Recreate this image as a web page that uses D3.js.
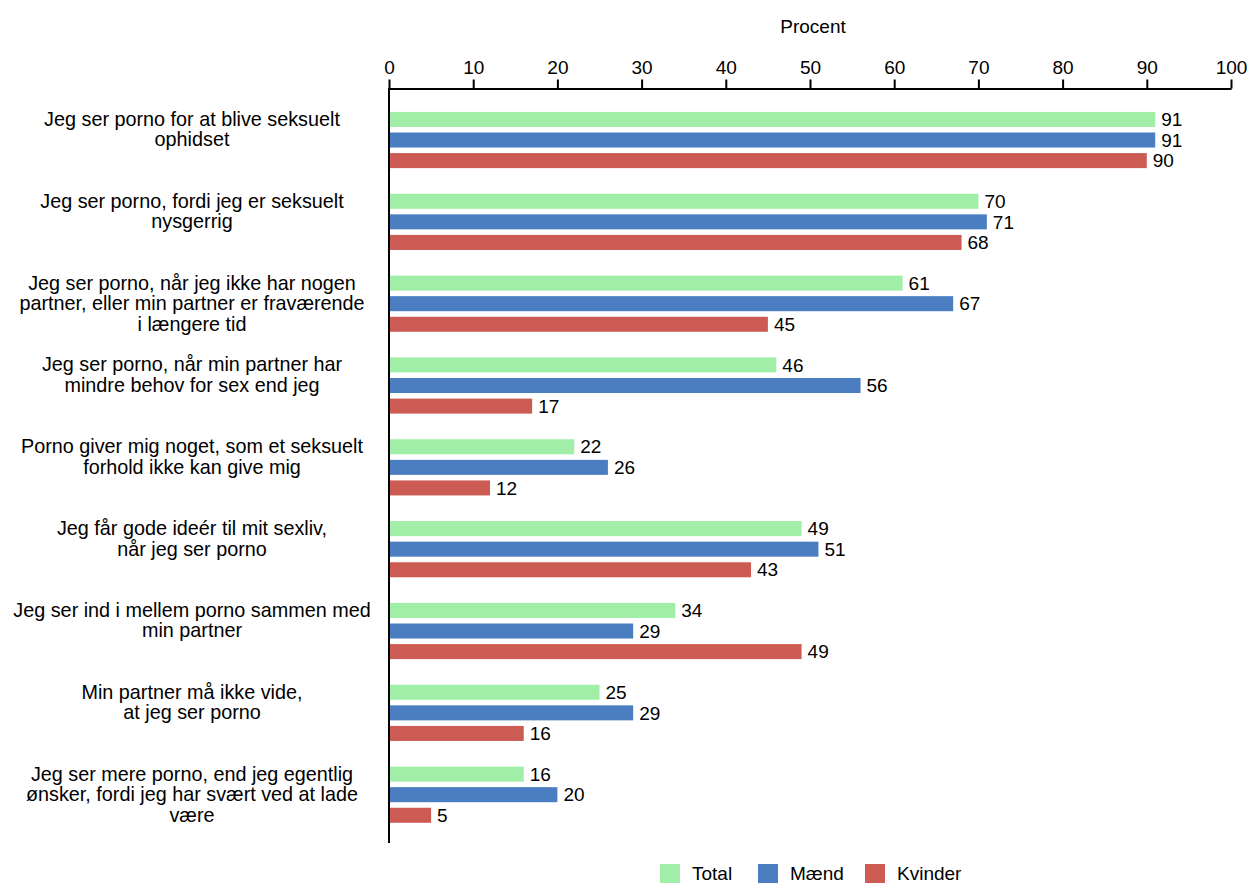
<!DOCTYPE html>
<html><head><meta charset="utf-8">
<script src="https://cdn.jsdelivr.net/npm/d3@7"></script>
<style>body{margin:0;background:#fff}text{font-family:"Liberation Sans",Arial,sans-serif;fill:#000}</style>
</head><body><svg id="c" width="1252" height="884"></svg>
<script>
const categories = [
  ["Jeg ser porno for at blive seksuelt","ophidset"],
  ["Jeg ser porno, fordi jeg er seksuelt","nysgerrig"],
  ["Jeg ser porno, når jeg ikke har nogen","partner, eller min partner er fraværende","i længere tid"],
  ["Jeg ser porno, når min partner har","mindre behov for sex end jeg"],
  ["Porno giver mig noget, som et seksuelt","forhold ikke kan give mig"],
  ["Jeg får gode ideér til mit sexliv,","når jeg ser porno"],
  ["Jeg ser ind i mellem porno sammen med","min partner"],
  ["Min partner må ikke vide,","at jeg ser porno"],
  ["Jeg ser mere porno, end jeg egentlig","ønsker, fordi jeg har svært ved at lade","være"]
];
const seriesNames = ["Total","Mænd","Kvinder"];
const total = [91,70,61,46,22,49,34,25,16];
const maend = [91,71,67,56,26,51,29,29,20];
const kvinder = [90,68,45,17,12,43,49,16,5];
const ticks = [0,10,20,30,40,50,60,70,80,90,100];
const colors = ["#a0eea8","#4b7ec0","#cc5c53"];
const series = [total, maend, kvinder];

const svg = d3.select("#c");
const x = d3.scaleLinear().domain([0,100]).range([389,1231]);
const y = d3.scaleBand().domain(d3.range(categories.length)).range([99,835.5]);
const inner = d3.scaleBand().domain(d3.range(3)).range([-28,28.2]).paddingInner(0.27).paddingOuter(0);

// top axis
const ax = svg.append("g").attr("transform","translate(0,88.5)")
  .call(d3.axisTop(x).tickValues(ticks).tickSize(9).tickPadding(6).tickSizeOuter(0));
ax.select(".domain").attr("stroke","#000").attr("stroke-width",2);
ax.selectAll(".tick line").attr("stroke","#000").attr("stroke-width",2);
ax.selectAll(".tick text").style("font-size","19px").attr("fill","#000");
svg.append("text").attr("x",813).attr("y",26).attr("dy","0.35em").attr("text-anchor","middle").style("font-size","19px").text("Procent");

// bars
categories.forEach((c,i)=>{
  const cy = y(i)+y.bandwidth()/2;
  series.forEach((s,j)=>{
    svg.append("rect").attr("x",x(0)).attr("y",cy+inner(j)).attr("width",x(s[i])-x(0))
      .attr("height",inner.bandwidth()).attr("fill",colors[j]);
    svg.append("text").attr("x",x(s[i])+6).attr("y",cy+inner(j)+inner.bandwidth()/2)
      .attr("dy","0.35em").style("font-size","19px").text(s[i]);
  });
  const t = svg.append("text").attr("text-anchor","middle").style("font-size","19.8px");
  c.forEach((line,k)=>{
    t.append("tspan").attr("x",192).attr("y",cy-21+k*20.6).attr("dy","0.35em").text(line);
  });
});

// y axis line
svg.append("line").attr("x1",x(0)).attr("x2",x(0)).attr("y1",88).attr("y2",843).attr("stroke","#000").attr("stroke-width",2);

// legend
const legX = [660,758,865];
seriesNames.forEach((n,j)=>{
  svg.append("rect").attr("x",legX[j]).attr("y",864).attr("width",20).attr("height",19).attr("fill",colors[j]);
  svg.append("text").attr("x",legX[j]+32).attr("y",873.5).attr("dy","0.35em").style("font-size","19px").text(n);
});
</script></body></html>
